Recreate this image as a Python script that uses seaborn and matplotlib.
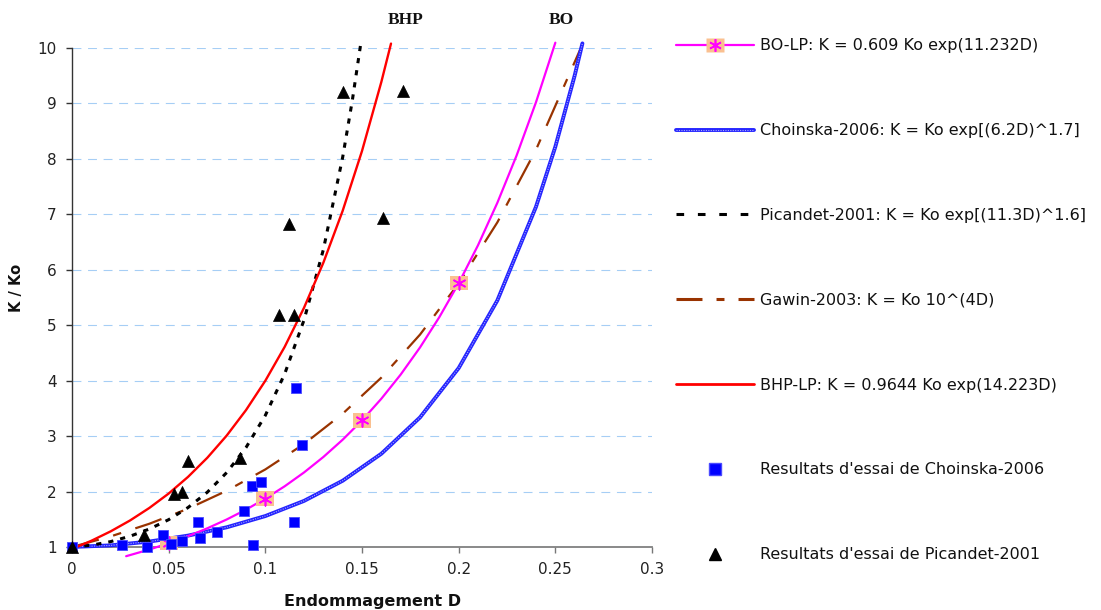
import matplotlib
matplotlib.use("Agg")
import matplotlib.pyplot as plt
from matplotlib.lines import Line2D
from matplotlib.path import Path
import seaborn as sns

# --- fitted permeability curves (K / Ko versus damage D) ---
bo_d = [0.028, 0.04, 0.05, 0.06, 0.07, 0.08, 0.09, 0.10, 0.11, 0.12, 0.13, 0.14,
        0.15, 0.16, 0.17, 0.18, 0.19, 0.20, 0.21, 0.22, 0.23, 0.24, 0.25]
bo_k = [0.834, 0.954, 1.068, 1.195, 1.337, 1.496, 1.674, 1.873, 2.095, 2.344, 2.623,
        2.935, 3.283, 3.674, 4.110, 4.599, 5.146, 5.757, 6.442, 7.208, 8.065, 9.023, 10.096]

bo_mark_d = [0.05, 0.10, 0.15, 0.20]
bo_mark_k = [1.068, 1.873, 3.283, 5.757]

cho_d = [0.0, 0.02, 0.04, 0.06, 0.08, 0.10, 0.12, 0.14, 0.16, 0.18, 0.20, 0.22,
         0.24, 0.25, 0.26, 0.264]
cho_k = [1.0, 1.029, 1.098, 1.205, 1.355, 1.558, 1.831, 2.195, 2.682, 3.337, 4.227,
         5.447, 7.137, 8.220, 9.504, 10.083]

pic_d = [0.0, 0.01, 0.02, 0.03, 0.04, 0.05, 0.06, 0.07, 0.08, 0.09, 0.10, 0.11,
         0.12, 0.13, 0.14, 0.145, 0.1495]
pic_k = [1.0, 1.031, 1.097, 1.194, 1.324, 1.493, 1.711, 1.988, 2.342, 2.794, 3.374,
         4.122, 5.093, 6.362, 8.030, 9.057, 10.114]

gaw_d = [0.0, 0.02, 0.04, 0.06, 0.08, 0.10, 0.12, 0.14, 0.16, 0.18, 0.20, 0.22,
         0.24, 0.2632]
gaw_k = [1.0, 1.191, 1.419, 1.690, 2.014, 2.399, 2.858, 3.404, 4.055, 4.831, 5.754,
         6.855, 8.166, 10.0]

bhp_d = [0.0, 0.01, 0.02, 0.03, 0.04, 0.05, 0.06, 0.07, 0.08, 0.09, 0.10, 0.11,
         0.12, 0.13, 0.14, 0.15, 0.16, 0.165]
bhp_k = [0.964, 1.112, 1.282, 1.478, 1.704, 1.964, 2.264, 2.610, 3.009, 3.469,
         3.999, 4.610, 5.315, 6.127, 7.064, 8.143, 9.388, 10.080]

# --- test results ---
cho_test_d = [0.0, 0.026, 0.039, 0.047, 0.051, 0.057, 0.065, 0.066, 0.075, 0.089,
              0.093, 0.098, 0.0935, 0.1146, 0.119, 0.116]
cho_test_k = [1.0, 1.04, 1.0, 1.22, 1.05, 1.10, 1.45, 1.16, 1.27, 1.65,
              2.10, 2.18, 1.04, 1.45, 2.84, 3.87]

pic_test_d = [0.0, 0.037, 0.053, 0.057, 0.060, 0.087, 0.107, 0.115, 0.112, 0.161,
              0.140, 0.171]
pic_test_k = [1.0, 1.22, 1.95, 2.0, 2.55, 2.60, 5.18, 5.18, 6.83, 6.93, 9.21, 9.23]

x_ticks = [0, 0.05, 0.1, 0.15, 0.2, 0.25, 0.3]
x_tick_labels = ["0", "0.05", "0.1", "0.15", "0.2", "0.25", "0.3"]
y_ticks = [1, 2, 3, 4, 5, 6, 7, 8, 9, 10]

labels = [
    "BO-LP: K = 0.609 Ko exp(11.232D)",
    "Choinska-2006: K = Ko exp[(6.2D)^1.7]",
    "Picandet-2001: K = Ko exp[(11.3D)^1.6]",
    "Gawin-2003: K = Ko 10^(4D)",
    "BHP-LP: K = 0.9644 Ko exp(14.223D)",
    "Resultats d'essai de Choinska-2006",
    "Resultats d'essai de Picandet-2001",
]

sns.set_theme(style="white")
plt.rcParams["font.family"] = ["DejaVu Sans"]

MAGENTA = "#FF00FF"
PEACH = "#FAC090"
BLUE = "#2424FF"
BLUE_LIGHT = "#A8A8FF"
BROWN = "#993300"
RED = "#FF0000"

# rectangular marker, slightly wider than tall
rect = Path([(-1.25, -1), (1.25, -1), (1.25, 1), (-1.25, 1), (-1.25, -1)],
            [Path.MOVETO, Path.LINETO, Path.LINETO, Path.LINETO, Path.CLOSEPOLY])
asterisk = (6, 2, 0)

fig = plt.figure(figsize=(11.01, 6.10), dpi=100)
ax = fig.add_axes([0.0654, 0.1033, 0.5268, 0.8180])

gawin_ls = (0, (12.5, 6.7, 3.8, 6.7))
picandet_ls = (0, (1.7, 2.3))

# curves
sns.lineplot(x=gaw_d, y=gaw_k, ax=ax, color=BROWN, linewidth=1.6,
             linestyle=gawin_ls, estimator=None, sort=False, clip_on=False, zorder=3)
sns.lineplot(x=cho_d, y=cho_k, ax=ax, color=BLUE, linewidth=2.8,
             estimator=None, sort=False, clip_on=False, zorder=3)
sns.lineplot(x=cho_d, y=cho_k, ax=ax, color=BLUE_LIGHT, linewidth=0.8,
             linestyle=(0, (1, 1.2)), estimator=None, sort=False, clip_on=False, zorder=3)
sns.lineplot(x=pic_d, y=pic_k, ax=ax, color="black", linewidth=2.2,
             linestyle=picandet_ls, estimator=None, sort=False, clip_on=False, zorder=3)
sns.lineplot(x=bo_d, y=bo_k, ax=ax, color=MAGENTA, linewidth=1.6,
             estimator=None, sort=False, clip_on=False, zorder=4)
sns.lineplot(x=bhp_d, y=bhp_k, ax=ax, color=RED, linewidth=1.7,
             estimator=None, sort=False, clip_on=False, zorder=4)

# BO-LP markers: peach box with magenta asterisk
sns.scatterplot(x=bo_mark_d, y=bo_mark_k, ax=ax, marker=rect, s=13 ** 2,
                color=PEACH, edgecolor="none", linewidth=0, clip_on=False, zorder=5)
sns.scatterplot(x=bo_mark_d, y=bo_mark_k, ax=ax, marker=asterisk, s=9 ** 2,
                color=MAGENTA, edgecolor=MAGENTA, linewidth=1.2, clip_on=False, zorder=6)

# test results
sns.scatterplot(x=cho_test_d, y=cho_test_k, ax=ax, marker="s", s=62,
                color="#0000FF", edgecolor="#4A4AFF", linewidth=0.6, clip_on=False, zorder=7)
sns.scatterplot(x=pic_test_d, y=pic_test_k, ax=ax, marker="^", s=75,
                color="black", edgecolor="black", linewidth=0.5, clip_on=False, zorder=7)

if ax.get_legend() is not None:
    ax.get_legend().remove()

ax.set_xlim(0, 0.3)
ax.set_ylim(1, 10)
ax.set_xticks(x_ticks)
ax.set_xticklabels(x_tick_labels)
ax.set_yticks(y_ticks)
ax.tick_params(axis="both", which="major", direction="out", length=4, width=1,
               labelsize=11, colors="#222222", pad=7, bottom=True, left=True)
ax.tick_params(axis="x", color="#777777")
ax.tick_params(axis="y", color="#333333")

ax.yaxis.grid(True, color="#A6CEF5", linestyle=(0, (8, 6)), linewidth=0.8)
ax.xaxis.grid(False)
ax.set_axisbelow(True)

for side in ["top", "right"]:
    ax.spines[side].set_visible(False)
ax.spines["left"].set_color("#333333")
ax.spines["bottom"].set_color("#808080")
ax.spines["left"].set_linewidth(1.0)
ax.spines["bottom"].set_linewidth(1.3)

ax.set_xlabel("Endommagement D", fontsize=11.5, fontweight="bold", color="#111111")
ax.set_ylabel("K / Ko", fontsize=10.5, fontweight="bold", color="#111111")
ax.xaxis.set_label_coords(0.519, -0.094)
ax.yaxis.set_label_coords(-0.082, 0.52)

ax.text(0.1724, 10.5, "BHP", fontsize=12.5, fontweight="bold", ha="center", va="center",
        family="Liberation Serif", color="#111111")
ax.text(0.2531, 10.5, "BO", fontsize=12.5, fontweight="bold", ha="center", va="center",
        family="Liberation Serif", color="#111111")

# legend
h_bo = (Line2D([], [], color=MAGENTA, linewidth=1.6, marker=rect, markersize=13,
               markerfacecolor=PEACH, markeredgecolor="none"),
        Line2D([], [], linestyle="none", marker=asterisk, markersize=9,
               markeredgecolor=MAGENTA, markeredgewidth=1.2))
h_cho = (Line2D([], [], color=BLUE, linewidth=2.8),
         Line2D([], [], color=BLUE_LIGHT, linewidth=0.8, linestyle=(0, (1, 1.2))))
h_pic = Line2D([], [], color="black", linewidth=2.2, linestyle=(0, (2.5, 4.5)))
h_gaw = Line2D([], [], color=BROWN, linewidth=2.2, linestyle=(0, (8.5, 4.6, 2.6, 4.6)))
h_bhp = Line2D([], [], color=RED, linewidth=2.0)
h_cho_t = Line2D([], [], linestyle="none", marker="s", markersize=8,
                 markerfacecolor="#0000FF", markeredgecolor="#4A4AFF")
h_pic_t = Line2D([], [], linestyle="none", marker="^", markersize=8.5,
                 markerfacecolor="black", markeredgecolor="black")

fig.legend([h_bo, h_cho, h_pic, h_gaw, h_bhp, h_cho_t, h_pic_t], labels,
           loc="upper left", bbox_to_anchor=(0.614, 0.937), frameon=False,
           borderaxespad=0, borderpad=0, handlelength=4.9, handletextpad=0.35,
           labelspacing=4.37, fontsize=11.5, numpoints=1, labelcolor="#111111")

fig.savefig("out.png", dpi=100)
